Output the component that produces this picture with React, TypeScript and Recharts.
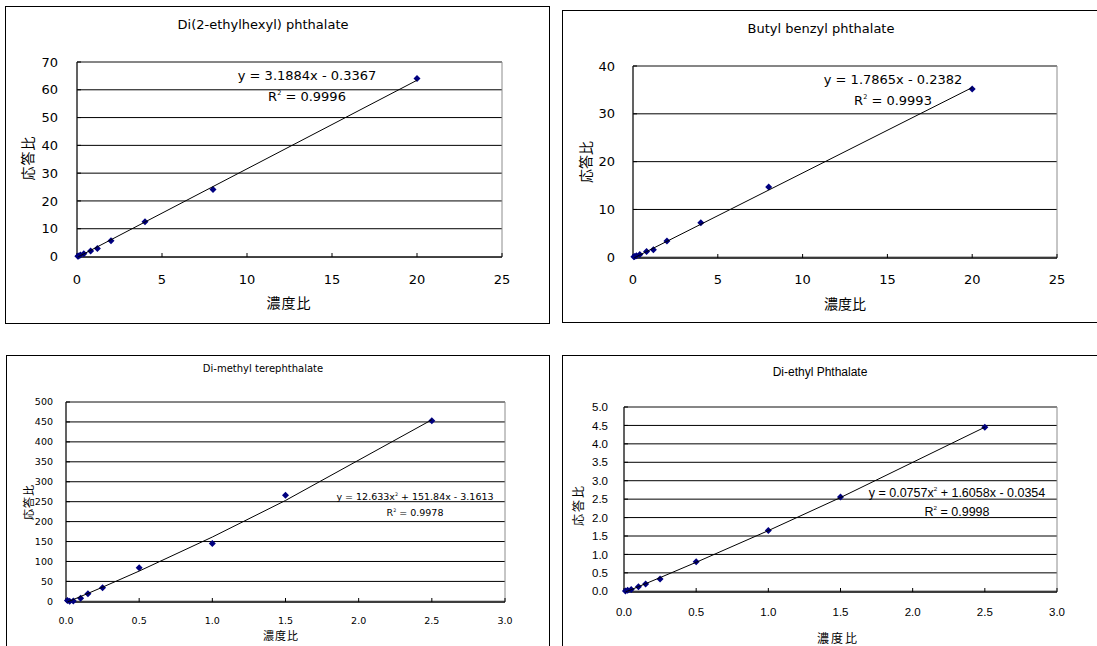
import React from "react";
import {
  ScatterChart,
  Scatter,
  XAxis,
  YAxis,
  CartesianGrid,
  ReferenceArea,
} from "recharts";

// Di(2-ethylhexyl) phthalate calibration
const dehpConc = [0.05, 0.1, 0.2, 0.4, 0.8, 1.2, 2, 4, 8, 20];
const dehpResp = [0.1, 0.2, 0.5, 1.0, 2.0, 2.9, 5.7, 12.5, 24.1, 64.1];
const dehpFit = [-0.3367, 3.1884]; // constant, x
const dehpR2 = "0.9996";

// Butyl benzyl phthalate calibration
const bbpConc = [0.05, 0.1, 0.2, 0.4, 0.8, 1.2, 2, 4, 8, 20];
const bbpResp = [0.1, 0.15, 0.3, 0.6, 1.2, 1.6, 3.4, 7.2, 14.7, 35.2];
const bbpFit = [-0.2382, 1.7865];
const bbpR2 = "0.9993";

// Di-methyl terephthalate calibration
const dmtConc = [0.01, 0.025, 0.05, 0.1, 0.15, 0.25, 0.5, 1.0, 1.5, 2.5];
const dmtResp = [2, 0.5, 1, 8, 19, 34, 84, 145, 266, 453];
const dmtFit = [-3.1613, 151.84, 12.633]; // constant, x, x^2
const dmtR2 = "0.9978";

// Di-ethyl phthalate calibration
const depConc = [0.01, 0.025, 0.05, 0.1, 0.15, 0.25, 0.5, 1.0, 1.5, 2.5];
const depResp = [0.01, 0.03, 0.05, 0.12, 0.2, 0.33, 0.8, 1.65, 2.56, 4.45];
const depFit = [-0.0354, 1.6058, 0.0757];
const depR2 = "0.9998";

// axis ticks
const xTicks25 = [0, 5, 10, 15, 20, 25];
const xTicks3 = [0, 0.5, 1.0, 1.5, 2.0, 2.5, 3.0];
const yTicks70 = [0, 10, 20, 30, 40, 50, 60, 70];
const yTicks40 = [0, 10, 20, 30, 40];
const yTicks500 = [0, 50, 100, 150, 200, 250, 300, 350, 400, 450, 500];
const yTicks5 = [0, 0.5, 1.0, 1.5, 2.0, 2.5, 3.0, 3.5, 4.0, 4.5, 5.0];

const X_LABEL = "濃度比";
const Y_LABEL = "応答比";

const DEJAVU = '"DejaVu Sans", "Noto Sans CJK JP", sans-serif';
const LIBER = '"Liberation Sans", "Noto Sans CJK JP", sans-serif';
const CJK = '"Noto Sans CJK JP", sans-serif';

const polyval = (c: number[], x: number) =>
  c.reduce((s, k, i) => s + k * Math.pow(x, i), 0);

// "y = a x^2 + b x - c" text built from the same coefficients the trend line uses
function equationText(c: number[]) {
  const parts: string[] = [];
  for (let i = c.length - 1; i >= 0; i--) {
    const v = c[i];
    const term = i === 2 ? `${Math.abs(v)}x^2` : i === 1 ? `${Math.abs(v)}x` : `${Math.abs(v)}`;
    if (parts.length === 0) parts.push((v < 0 ? "-" : "") + term);
    else parts.push((v < 0 ? " - " : " + ") + term);
  }
  return "y = " + parts.join("");
}

function withSup(text: string) {
  const bits = text.split("^2");
  return bits.map((b, i) => (
    <React.Fragment key={i}>
      {b}
      {i < bits.length - 1 && (
        <span style={{ fontSize: "0.5em", position: "relative", top: "-0.9em" }}>2</span>
      )}
    </React.Fragment>
  ));
}

const Diamond = (props: any) => {
  const { cx, cy } = props;
  const r = 3.5;
  return (
    <polygon
      points={`${cx},${cy - r} ${cx + r},${cy} ${cx},${cy + r} ${cx - r},${cy}`}
      fill="#000080"
    />
  );
};

const NoDot = () => <g />;

type Pt = [number, number];

type PanelCfg = {
  title: string;
  conc: number[];
  resp: number[];
  fit: number[];
  r2: string;
  xTicks: number[];
  yTicks: number[];
  xDecimals: number;
  yDecimals: number;
  frame: [number, number, number, number];
  plot: [number, number, number, number];
  tickFont: string;
  tickSize: number;
  yTickGap: number;
  xTickGap: number;
  titleAt: Pt;
  titleFont: string;
  titleSize: number;
  eqAt: [number, number, number];
  eqFont: string;
  eqSize: number;
  xLabelAt: Pt;
  yLabelAt: Pt;
  labelSize: number;
  labelSpacing: number;
};

const panels: PanelCfg[] = [
  {
    title: "Di(2-ethylhexyl) phthalate",
    conc: dehpConc,
    resp: dehpResp,
    fit: dehpFit,
    r2: dehpR2,
    xTicks: xTicks25,
    yTicks: yTicks70,
    xDecimals: 0,
    yDecimals: 0,
    frame: [5, 6, 545, 318],
    plot: [77, 62, 502, 257],
    tickFont: DEJAVU,
    tickSize: 13,
    yTickGap: 23,
    xTickGap: 22,
    titleAt: [263, 24],
    titleFont: DEJAVU,
    titleSize: 13,
    eqAt: [307, 75, 96],
    eqFont: DEJAVU,
    eqSize: 13,
    xLabelAt: [289, 302],
    yLabelAt: [27, 158],
    labelSize: 14,
    labelSpacing: 1,
  },
  {
    title: "Butyl benzyl phthalate",
    conc: bbpConc,
    resp: bbpResp,
    fit: bbpFit,
    r2: bbpR2,
    xTicks: xTicks25,
    yTicks: yTicks40,
    xDecimals: 0,
    yDecimals: 0,
    frame: [562, 10, 540, 313],
    plot: [633, 66, 1057, 258],
    tickFont: DEJAVU,
    tickSize: 13,
    yTickGap: 22,
    xTickGap: 21,
    titleAt: [821, 28],
    titleFont: DEJAVU,
    titleSize: 13,
    eqAt: [893, 79, 100],
    eqFont: DEJAVU,
    eqSize: 13,
    xLabelAt: [845, 303],
    yLabelAt: [585, 162],
    labelSize: 14,
    labelSpacing: 0,
  },
  {
    title: "Di-methyl terephthalate",
    conc: dmtConc,
    resp: dmtResp,
    fit: dmtFit,
    r2: dmtR2,
    xTicks: xTicks3,
    yTicks: yTicks500,
    xDecimals: 1,
    yDecimals: 0,
    frame: [6, 355, 544, 300],
    plot: [66, 402, 505, 602],
    tickFont: DEJAVU,
    tickSize: 9.5,
    yTickGap: 17,
    xTickGap: 19,
    titleAt: [263, 369],
    titleFont: DEJAVU,
    titleSize: 10,
    eqAt: [415, 497, 513],
    eqFont: DEJAVU,
    eqSize: 9.5,
    xLabelAt: [281, 635],
    yLabelAt: [28, 502],
    labelSize: 11,
    labelSpacing: 1,
  },
  {
    title: "Di-ethyl Phthalate",
    conc: depConc,
    resp: depResp,
    fit: depFit,
    r2: depR2,
    xTicks: xTicks3,
    yTicks: yTicks5,
    xDecimals: 1,
    yDecimals: 1,
    frame: [562, 355, 540, 300],
    plot: [624, 407, 1057, 592],
    tickFont: LIBER,
    tickSize: 11.5,
    yTickGap: 20,
    xTickGap: 20,
    titleAt: [820, 372],
    titleFont: LIBER,
    titleSize: 12,
    eqAt: [957, 493, 512],
    eqFont: LIBER,
    eqSize: 12.5,
    xLabelAt: [838, 638],
    yLabelAt: [578, 505],
    labelSize: 12,
    labelSpacing: 2,
  },
];

const Txt = ({
  at,
  size,
  font,
  rotate,
  spacing,
  children,
}: {
  at: Pt;
  size: number;
  font: string;
  rotate?: boolean;
  spacing?: number;
  children: React.ReactNode;
}) => (
  <div
    style={{
      position: "absolute",
      left: at[0],
      top: at[1],
      transform: `translate(-50%, -50%)${rotate ? " rotate(-90deg)" : ""}`,
      fontSize: size,
      fontFamily: font,
      letterSpacing: spacing,
      whiteSpace: "nowrap",
      lineHeight: 1,
      color: "#000",
    }}
  >
    {children}
  </div>
);

const YW = 40;
const XH = 30;
const TICK = 4;

function Panel({ cfg }: { cfg: PanelCfg }) {
  const [fx, fy, fw, fh] = cfg.frame;
  const [pl, pt, pr, pb] = cfg.plot;
  const margin = {
    left: pl - fx - YW,
    top: pt - fy,
    right: fx + fw - pr,
    bottom: fy + fh - pb - XH,
  };
  const points = cfg.conc.map((x, i) => ({ x, y: cfg.resp[i] }));
  const trend = cfg.conc.map((x) => ({ x, y: polyval(cfg.fit, x) }));
  const xMax = cfg.xTicks[cfg.xTicks.length - 1];
  const yMax = cfg.yTicks[cfg.yTicks.length - 1];
  const tickStyle = { fill: "#000", fontSize: cfg.tickSize, fontFamily: cfg.tickFont };

  return (
    <>
      <div
        style={{
          position: "absolute",
          left: fx,
          top: fy,
          width: fw,
          height: fh,
          border: "1px solid #000",
          boxSizing: "border-box",
        }}
      />
      <div style={{ position: "absolute", left: fx, top: fy }}>
        <ScatterChart width={fw} height={fh} margin={margin}>
          <CartesianGrid vertical={false} stroke="#000" strokeWidth={1} />
          <ReferenceArea
            x1={0}
            x2={xMax}
            y1={0}
            y2={yMax}
            fill="none"
            stroke="#8c8c8c"
            strokeWidth={1}
          />
          <XAxis
            type="number"
            dataKey="x"
            domain={[0, xMax]}
            ticks={cfg.xTicks}
            tickFormatter={(v: number) => v.toFixed(cfg.xDecimals)}
            height={XH}
            tickSize={-TICK}
            tickMargin={cfg.xTickGap}
            axisLine={{ stroke: "#000" }}
            tickLine={{ stroke: "#000" }}
            tick={tickStyle}
            interval={0}
          />
          <YAxis
            type="number"
            dataKey="y"
            domain={[0, yMax]}
            ticks={cfg.yTicks}
            tickFormatter={(v: number) => v.toFixed(cfg.yDecimals)}
            width={YW}
            tickSize={-TICK}
            tickMargin={cfg.yTickGap}
            axisLine={{ stroke: "#000" }}
            tickLine={{ stroke: "#000" }}
            tick={tickStyle}
            interval={0}
          />
          <Scatter
            data={points}
            shape={Diamond}
            fill="#000080"
            isAnimationActive={false}
          />
          <Scatter
            data={trend}
            line={{ stroke: "#000", strokeWidth: 1 }}
            shape={NoDot}
            isAnimationActive={false}
          />
        </ScatterChart>
      </div>
      <Txt at={cfg.titleAt} size={cfg.titleSize} font={cfg.titleFont}>
        {cfg.title}
      </Txt>
      <Txt at={[cfg.eqAt[0], cfg.eqAt[1]]} size={cfg.eqSize} font={cfg.eqFont}>
        {withSup(equationText(cfg.fit))}
      </Txt>
      <Txt at={[cfg.eqAt[0], cfg.eqAt[2]]} size={cfg.eqSize} font={cfg.eqFont}>
        {withSup(`R^2 = ${cfg.r2}`)}
      </Txt>
      <Txt at={cfg.xLabelAt} size={cfg.labelSize} font={CJK} spacing={cfg.labelSpacing}>
        {X_LABEL}
      </Txt>
      <Txt at={cfg.yLabelAt} size={cfg.labelSize} font={CJK} spacing={cfg.labelSpacing} rotate>
        {Y_LABEL}
      </Txt>
    </>
  );
}

export default function App() {
  return (
    <div
      style={{
        position: "absolute",
        left: 0,
        top: 0,
        width: 1097,
        height: 646,
        overflow: "hidden",
        background: "#fff",
      }}
    >
      {panels.map((p) => (
        <Panel key={p.title} cfg={p} />
      ))}
    </div>
  );
}
